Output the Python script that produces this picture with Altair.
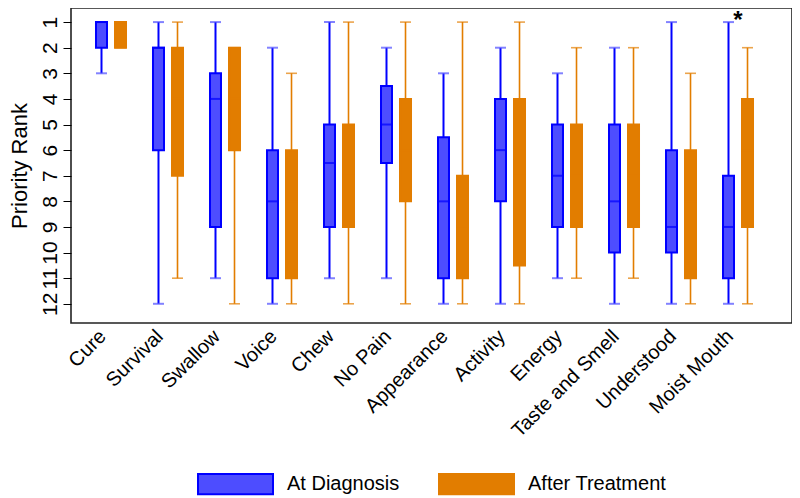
import altair as alt
import pandas as pd

categories = ["Cure", "Survival", "Swallow", "Voice", "Chew", "No Pain",
              "Appearance", "Activity", "Energy", "Taste and Smell",
              "Understood", "Moist Mouth"]
groups = ["At Diagnosis", "After Treatment"]

# At Diagnosis
d_min = [1, 1, 1, 2, 1, 2, 3, 2, 3, 2, 1, 1]
d_q1 = [1, 2, 3, 6, 5, 3.5, 5.5, 4, 5, 5, 6, 7]
d_med = [1, 2, 4, 8, 6.5, 5, 8, 6, 7, 8, 9, 9]
d_q3 = [2, 6, 9, 11, 9, 6.5, 11, 8, 9, 10, 10, 11]
d_max = [3, 12, 11, 12, 11, 11, 12, 12, 11, 12, 12, 12]

# After Treatment
t_min = [1, 1, 2, 3, 1, 1, 1, 1, 2, 2, 3, 2]
t_q1 = [1, 2, 2, 6, 5, 4, 7, 4, 5, 5, 6, 4]
t_med = [1, 4, 4, 8, 7, 6, 9, 7, 7, 7, 8, 6]
t_q3 = [2, 7, 6, 11, 9, 8, 11, 10.5, 9, 9, 11, 9]
t_max = [2, 11, 12, 12, 12, 12, 12, 12, 11, 11, 12, 12]

star_category = ["Moist Mouth"]
star_rank = [0.47]

rows = []
for g, (mn, q1, md, q3, mx) in zip(groups, [(d_min, d_q1, d_med, d_q3, d_max),
                                             (t_min, t_q1, t_med, t_q3, t_max)]):
    for i, c in enumerate(categories):
        rows.append(dict(category=c, group=g, lo=mn[i], q1=q1[i], med=md[i],
                         q3=q3[i], hi=mx[i]))
df = pd.DataFrame(rows)
star_df = pd.DataFrame({"category": star_category, "rank": star_rank})

FONT = "Liberation Sans"
line_colors = ["#0000ff", "#e27d00"]
fill_colors = ["#4d4dff", "#e27d00"]
line_widths = [2, 1.6]

x_scale = alt.Scale(paddingInner=0.333, paddingOuter=0.491, align=0.375)
x_axis = alt.Axis(title=None, ticks=False, domain=False, labelAngle=315,
                  labelAlign="right", labelBaseline="middle",
                  labelFontSize=20, labelPadding=10, labelColor="black",
                  labelFont=FONT, labelOffset=-8, labelOverlap=False)
y_scale = alt.Scale(domain=[0.45, 12.75], reverse=True, nice=False, zero=False)
y_axis = alt.Axis(values=list(range(1, 13)), labelAngle=270, labelAlign="center",
                  labelBaseline="bottom", labelFontSize=21, labelColor="black",
                  labelFont=FONT, tickSize=8, tickColor="black", tickWidth=1,
                  labelPadding=3, labelOverlap=False, domain=False, grid=False,
                  title="Priority Rank", titleFontSize=22, titleFontWeight="normal",
                  titleFont=FONT, titleColor="black", titleAngle=270, titleX=-40,
                  titleY=157.5, titleAlign="center", titleBaseline="bottom")

xoff = alt.XOffset("group:N", sort=groups,
                   scale=alt.Scale(domain=groups, paddingInner=0, paddingOuter=0))
legend = alt.Legend(orient="none", legendX=126, legendY=437.5, direction="horizontal",
                    title=None, symbolType="M-1,-0.27H1V0.27H-1Z", symbolSize=5625,
                    symbolStrokeWidth=2, symbolOpacity=1, labelFontSize=20,
                    labelFont=FONT, labelColor="black", labelOffset=13,
                    columnPadding=35, padding=0)
stroke_enc = alt.Stroke("group:N", sort=groups,
                        scale=alt.Scale(domain=groups, range=line_colors),
                        legend=legend)
fill_enc = alt.Fill("group:N", sort=groups,
                    scale=alt.Scale(domain=groups, range=fill_colors), legend=legend)

xe = alt.X("category:N", sort=categories, scale=x_scale, axis=x_axis)


def ye(field):
    return alt.Y(field, scale=y_scale, axis=y_axis)


base = alt.Chart(df)

layers = []
for g, w in zip(groups, line_widths):
    sub = base.transform_filter(alt.datum.group == g)
    layers.append(sub.mark_rule(strokeWidth=w).encode(
        x=xe, xOffset=xoff, y=ye("lo:Q"), y2="hi:Q", stroke=stroke_enc))
    layers.append(sub.mark_tick(orient="horizontal", size=11, thickness=w,
                                filled=True).encode(
        x=xe, xOffset=xoff, y=ye("lo:Q"), fill=fill_enc, stroke=stroke_enc,
        strokeWidth=alt.value(0)))
    layers.append(sub.mark_tick(orient="horizontal", size=11, thickness=w,
                                filled=True).encode(
        x=xe, xOffset=xoff, y=ye("hi:Q"), fill=fill_enc, stroke=stroke_enc,
        strokeWidth=alt.value(0)))

box = base.mark_bar(size=11, strokeWidth=2, opacity=1).encode(
    x=xe, xOffset=xoff, y=ye("q1:Q"), y2="q3:Q",
    fill=fill_enc, stroke=stroke_enc)

median = base.mark_tick(orient="horizontal", size=11, thickness=0.01).encode(
    x=xe, xOffset=xoff, y=ye("med:Q"), fill=fill_enc, stroke=stroke_enc,
    strokeWidth=alt.value(2))

star = alt.Chart(star_df).mark_text(text="*", fontSize=24, fontWeight="bold",
                                    font=FONT, color="black",
                                    baseline="top").encode(
    x=xe, y=ye("rank:Q"))

chart = alt.layer(*layers, box, median, star).properties(
    width=721, height=315,
    autosize="none",
    padding={"left": 63, "top": 0, "right": 0, "bottom": 175},
).configure_view(stroke="#222222", strokeWidth=1.6)

chart.save("out.html", embed_options={"renderer": "svg", "actions": False})
